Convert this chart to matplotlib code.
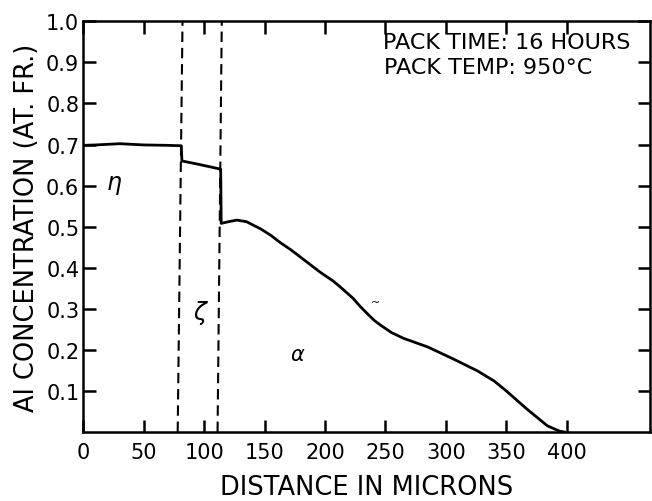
import numpy as np
import matplotlib
matplotlib.use("Agg")
import matplotlib.pyplot as plt

# concentration profile
dist = [0, 10, 30, 50, 70, 81, 81.5, 95, 113.6, 114, 120, 127, 135, 147, 155, 163, 172, 180,
        188, 196, 207, 213, 223, 229, 236, 241, 246, 255, 265, 285, 306, 326, 340, 350, 367,
        384, 394, 398]
conc = [0.698, 0.699, 0.702, 0.699, 0.698, 0.697, 0.660, 0.652, 0.640, 0.508, 0.512, 0.516,
        0.512, 0.494, 0.479, 0.461, 0.443, 0.425, 0.407, 0.389, 0.367, 0.352, 0.326, 0.306,
        0.285, 0.271, 0.260, 0.242, 0.228, 0.207, 0.178, 0.149, 0.124, 0.100, 0.056, 0.015,
        0.002, 0.0]

# phase boundaries (slightly slanted in the original): bottom x, top x
bound1 = [78, 82]
bound2 = [111, 114.5]

xticks = [0, 50, 100, 150, 200, 250, 300, 350, 400]
yticks = [0.1, 0.2, 0.3, 0.4, 0.5, 0.6, 0.7, 0.8, 0.9, 1.0]
ytick_labels = ["0.1", "0.2", "0.3", "0.4", "0.5", "0.6", "0.7", "0.8", "0.9", "1.0"]

plt.rcParams['font.family'] = ['DejaVu Sans']

fig = plt.figure(figsize=(6.52, 5.02), dpi=100)
ax = fig.add_axes([0.128, 0.1375, 0.869, 0.818])

ax.plot(dist, conc, color='black', linewidth=2.0)
for b in (bound1, bound2):
    ax.plot(b, [0, 1.0], color='black', linewidth=1.5, linestyle=(0, (5, 2.8)))

ax.set_xlim(0, 469)
ax.set_ylim(0, 1.0)

ax.set_xticks(xticks)
ax.set_xticklabels([str(t) for t in xticks], fontsize=15)
ax.set_yticks(yticks)
ax.set_yticklabels(ytick_labels, fontsize=15)
ax.tick_params(axis='both', direction='in', length=9, width=1.8, pad=3,
               top=True, right=True)
ax.tick_params(axis='x', pad=7)
for s in ax.spines.values():
    s.set_linewidth(1.8)

ax.set_xlabel("DISTANCE IN MICRONS", fontsize=18.5, labelpad=9)
ax.set_ylabel("Al CONCENTRATION (AT. FR.)", fontsize=18.5, labelpad=4)

ax.text(248, 0.949, "PACK TIME: 16 HOURS", fontsize=16, ha='left', va='center')
ax.text(249, 0.890, "PACK TEMP: 950°C", fontsize=16, ha='left', va='center')

ax.text(25, 0.603, r"$\eta$", fontsize=17, ha='center', va='center')
ax.text(97, 0.292, r"$\zeta$", fontsize=17, ha='center', va='center')
ax.text(177, 0.19, r"$\alpha$", fontsize=15, ha='center', va='center')
ax.text(241.5, 0.316, "~", fontsize=8, ha='center', va='center')

fig.savefig("out.png", dpi=100)
